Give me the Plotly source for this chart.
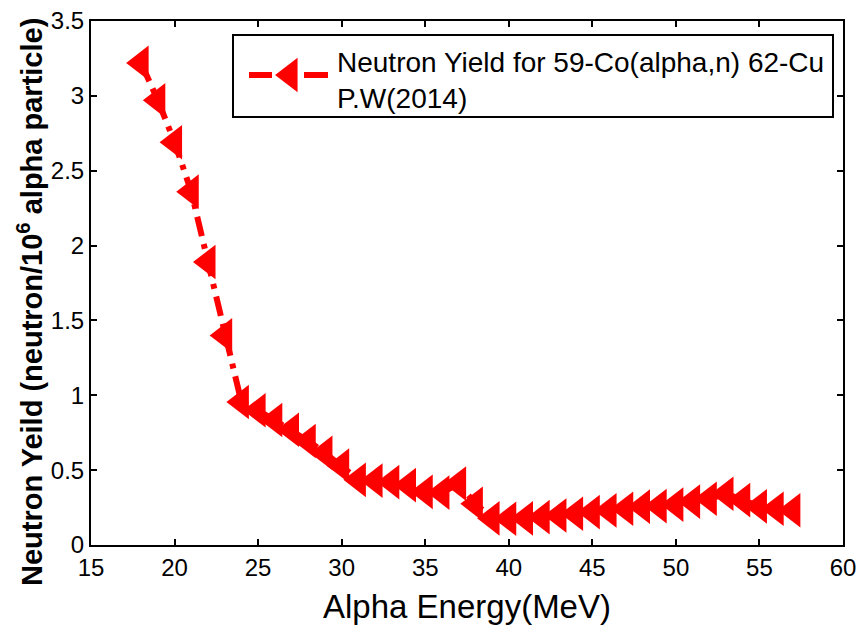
import plotly.graph_objects as go

# Alpha particle energy (MeV) and neutron yield (neutron / 10^6 alpha particle)
energy_mev = [18, 19, 20, 21, 22, 23, 24, 25, 26, 27, 28, 29, 30, 31, 32, 33,
              34, 35, 36, 37, 38, 39, 40, 41, 42, 43, 44, 45, 46, 47, 48, 49,
              50, 51, 52, 53, 54, 55, 56, 57]
neutron_yield = [3.22, 2.97, 2.69, 2.36, 1.89, 1.40, 0.955, 0.90, 0.835, 0.77,
                 0.695, 0.615, 0.53, 0.435, 0.43, 0.42, 0.40, 0.355, 0.35, 0.41,
                 0.275, 0.178, 0.175, 0.178, 0.186, 0.197, 0.209, 0.22, 0.231,
                 0.242, 0.256, 0.26, 0.27, 0.29, 0.309, 0.342, 0.30, 0.258,
                 0.242, 0.232]

x_ticks = [15, 20, 25, 30, 35, 40, 45, 50, 55, 60]
y_ticks = [0, 0.5, 1, 1.5, 2, 2.5, 3, 3.5]
y_tick_text = ["0", "0.5", "1", "1.5", "2", "2.5", "3", "3.5"]

legend_lines = ["Neutron Yield for 59-Co(alpha,n) 62-Cu", "P.W(2014)"]

FONT = "Liberation Sans, Arial, sans-serif"
RED = "#ff0000"
W, H = 861, 625
M_L, M_R, M_T, M_B = 91, 18, 21, 80


def px_to_paper_x(px):
    return (px - M_L) / (W - M_L - M_R)


def px_to_paper_y(py):
    return (H - M_B - py) / (H - M_T - M_B)


fig = go.Figure()

# Main data series: dash-dot red line with left-pointing triangles
fig.add_trace(go.Scatter(
    x=energy_mev,
    y=neutron_yield,
    mode="lines+markers",
    line=dict(color=RED, width=6, dash="20px,8px,5px,8px"),
    marker=dict(symbol="triangle-left", size=30, color=RED, line=dict(width=0)),
    showlegend=False,
))

# Legend key drawn on its own small hidden axes inside the legend box
fig.add_trace(go.Scatter(
    x=[0, 1], y=[0.5, 0.5], mode="lines",
    line=dict(color=RED, width=6, dash="23px,32px,25px,200px"),
    xaxis="x2", yaxis="y2", showlegend=False, hoverinfo="skip",
))
fig.add_trace(go.Scatter(
    x=[0.52], y=[0.5], mode="markers",
    marker=dict(symbol="triangle-left", size=30, color=RED, line=dict(width=0)),
    xaxis="x2", yaxis="y2", showlegend=False, hoverinfo="skip",
))

axis_common = dict(
    showline=True, linecolor="black", linewidth=2, mirror="allticks",
    ticks="inside", ticklen=6, tickwidth=1.5, tickcolor="black",
    showgrid=False, zeroline=False,
    tickfont=dict(family=FONT, size=24, color="black"),
)

fig.update_layout(
    width=W, height=H,
    margin=dict(l=M_L, r=M_R, t=M_T, b=M_B, autoexpand=False),
    paper_bgcolor="white", plot_bgcolor="white",
    font=dict(family=FONT, color="black"),
    showlegend=False,
    xaxis=dict(
        range=[15, 60], tickvals=x_ticks, ticktext=[str(v) for v in x_ticks],
        title=dict(text="Alpha Energy(MeV)", standoff=17,
                   font=dict(family=FONT, size=33, color="black")),
        **axis_common,
    ),
    yaxis=dict(
        range=[0, 3.5], tickvals=y_ticks, ticktext=y_tick_text,
        **axis_common,
    ),
    xaxis2=dict(domain=[px_to_paper_x(249), px_to_paper_x(328)], range=[0, 1],
                visible=False, fixedrange=True, anchor="y2"),
    yaxis2=dict(domain=[px_to_paper_y(95), px_to_paper_y(55)], range=[0, 1],
                visible=False, fixedrange=True, anchor="x2"),
    shapes=[dict(
        type="rect", xref="paper", yref="paper", layer="below",
        x0=px_to_paper_x(233), x1=px_to_paper_x(833),
        y0=px_to_paper_y(117), y1=px_to_paper_y(35),
        line=dict(color="black", width=2), fillcolor="white",
    )],
    annotations=[
        dict(
            text="<br>".join(legend_lines), xref="paper", yref="paper",
            x=px_to_paper_x(335), y=px_to_paper_y(80),
            xanchor="left", yanchor="middle", align="left", showarrow=False,
            font=dict(family=FONT, size=28, color="black"),
        ),
        dict(
            text="<b>Neutron Yeild (neutron/10<sup>6</sup> alpha particle)</b>",
            xref="paper", yref="paper", textangle=-90,
            x=px_to_paper_x(30), y=px_to_paper_y(302),
            xanchor="center", yanchor="middle", showarrow=False,
            font=dict(family=FONT, size=29, color="black"),
        ),
    ],
)

fig.write_html("out.html")
